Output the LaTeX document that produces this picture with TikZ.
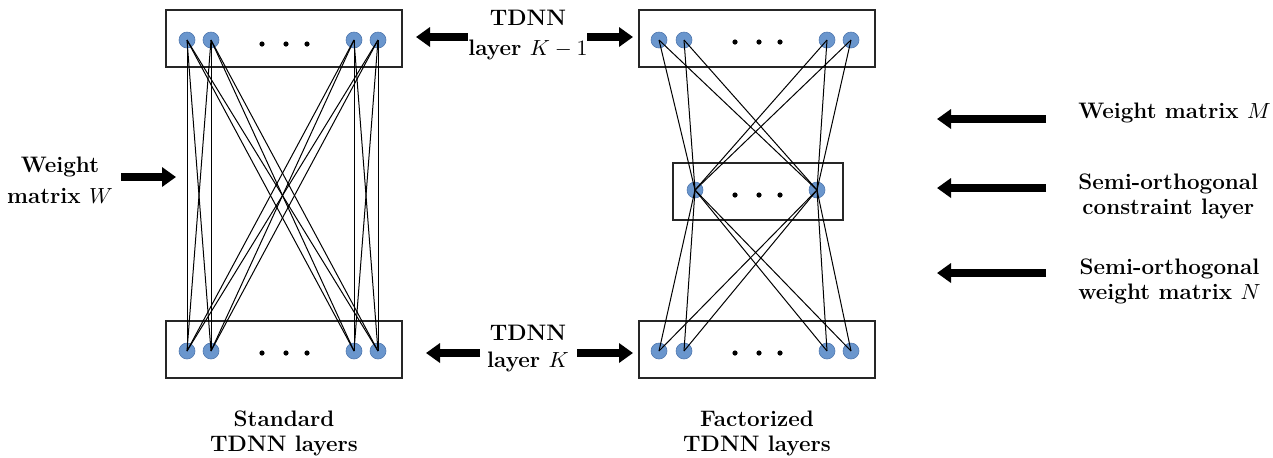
\documentclass[tikz,border=0pt]{standalone}
\usetikzlibrary{arrows.meta}
\definecolor{nodefill}{RGB}{106,150,205}
\definecolor{nodeedge}{RGB}{80,120,175}
\begin{document}
\begin{tikzpicture}[x=0.5pt,y=-0.5pt,
  unit/.style={circle,fill=nodefill,draw=nodeedge,line width=0.3pt,minimum size=8pt,inner sep=0pt},
  dotn/.style={circle,fill=black,minimum size=2.6pt,inner sep=0pt},
  layerbox/.style={draw=black!85,line width=0.6pt},
  link/.style={line width=0.5pt,black},
  bigarrow/.style={line width=3.6pt,-{Triangle[length=7pt,width=9.5pt]}},
  lbl/.style={font=\fontsize{11.2}{12.5}\selectfont\bfseries,align=center,inner sep=0pt}]
\useasboundingbox (0,0) rectangle (1273,457);
% boxes
\draw[layerbox] (166,10) rectangle (402,67);
\draw[layerbox] (166,321) rectangle (402,378);
\draw[layerbox] (639,10) rectangle (875,67);
\draw[layerbox] (639,321) rectangle (875,378);
\draw[layerbox] (673,163) rectangle (843,220);
% units
\foreach \n/\x in {1/187,2/211,3/354,4/378}{
  \node[unit] (LT\n) at (\x,40) {};
  \node[unit] (LB\n) at (\x,351) {};}
\foreach \n/\x in {1/659,2/684,3/827,4/851}{
  \node[unit] (RT\n) at (\x,40) {};
  \node[unit] (RB\n) at (\x,351) {};}
\node[unit] (RM1) at (695,190) {};
\node[unit] (RM2) at (817,190) {};
% ellipsis dots
\foreach \x [count=\k] in {262,286,307}{
  \node[dotn] (LTd\k) at (\x,44) {};
  \node[dotn] (LBd\k) at (\x,353) {};}
\foreach \x [count=\k] in {735,759,780}{
  \node[dotn] (RTd\k) at (\x,42) {};
  \node[dotn] (RMd\k) at (\x,195) {};
  \node[dotn] (RBd\k) at (\x,353) {};}
% links
\foreach \i in {1,...,4}{
  \foreach \j in {1,...,4}{
    \draw[link] (LT\i.center) -- (LB\j.center);}
  \foreach \j in {1,2}{
    \draw[link] (RT\i.center) -- (RM\j.center);
    \draw[link] (RM\j.center) -- (RB\i.center);}}
% labels
\node[lbl] (Wlab) at (60,180) {Weight\\[3pt]matrix $W$};
\node[lbl] (K1lab) at (528,35) {TDNN\\[2.2pt]layer $K-1$};
\node[lbl] (Klab) at (528,349) {TDNN\\[1pt]layer $K$};
\node[lbl] (Slab) at (284,433) {Standard\\TDNN layers};
\node[lbl] (Flab) at (757,433) {Factorized\\TDNN layers};
\node[lbl,anchor=west] (Mlab) at (1078,113) {Weight matrix $M$};
\node[lbl,anchor=west] (Clab) at (1078,196) {Semi-orthogonal\\constraint layer};
\node[lbl,anchor=west] (Nlab) at (1078,281) {Semi-orthogonal\\weight matrix $N$};
% arrow coordinates
\coordinate (aW1) at (121,177); \coordinate (aW2) at (176,177);
\coordinate (aT1) at (468,37); \coordinate (aT2) at (416,37);
\coordinate (aT3) at (587,37); \coordinate (aT4) at (633,37);
\coordinate (aB1) at (480,353); \coordinate (aB2) at (426,353);
\coordinate (aB3) at (577,353); \coordinate (aB4) at (633,353);
\coordinate (aM1) at (1046,119); \coordinate (aM2) at (937,119);
\coordinate (aC1) at (1046,188); \coordinate (aC2) at (937,188);
\coordinate (aN1) at (1046,273); \coordinate (aN2) at (937,273);
\foreach \a/\b in {aW1/aW2,aT1/aT2,aT3/aT4,aB1/aB2,aB3/aB4,aM1/aM2,aC1/aC2,aN1/aN2}
  \draw[bigarrow] (\a) -- (\b);
\end{tikzpicture}
\end{document}
